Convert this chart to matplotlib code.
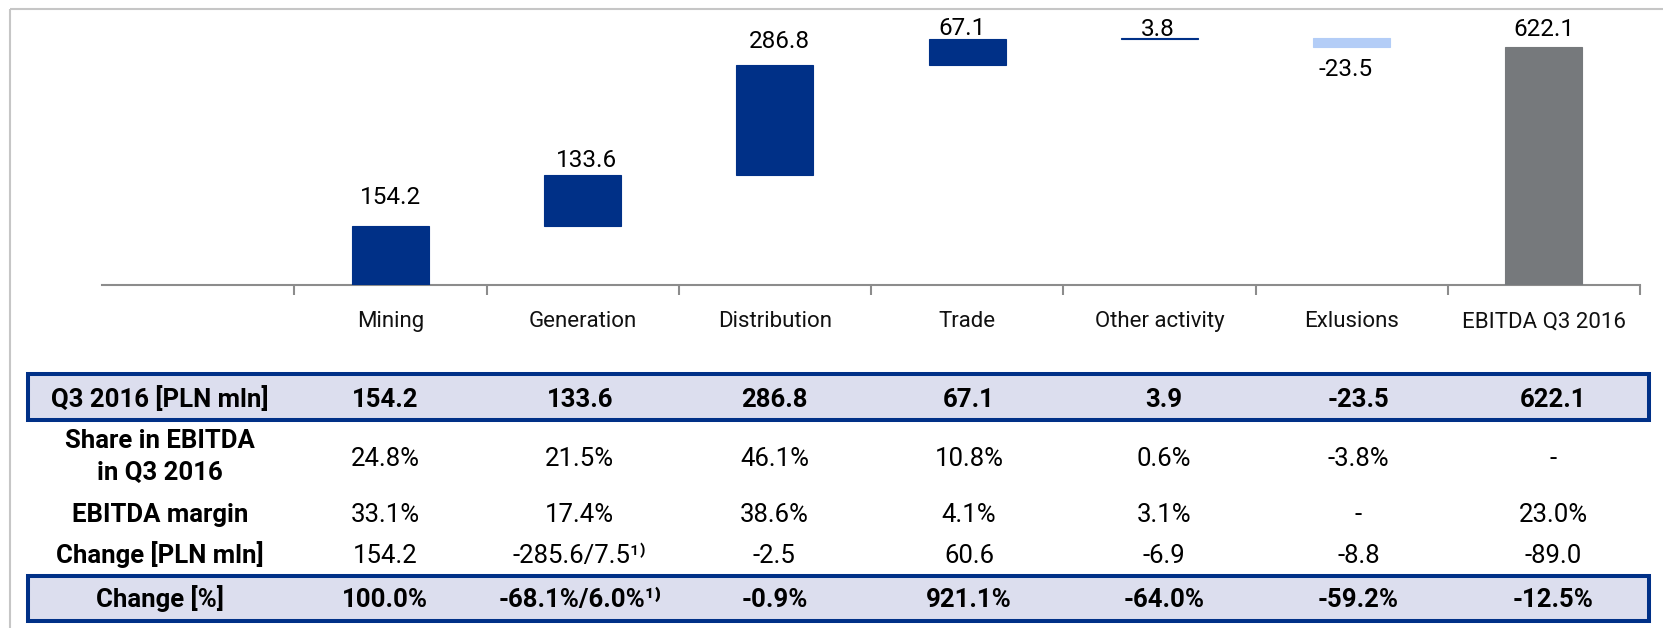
import matplotlib.pyplot as plt
from matplotlib.patches import Rectangle
import numpy as np

plt.rcParams['font.family'] = ['Roboto', 'DejaVu Sans']

# chart data
categories = ["", "Mining", "Generation", "Distribution", "Trade", "Other activity", "Exlusions", "EBITDA Q3 2016"]
steps = [154.2, 133.6, 286.8, 67.1, 3.8, -23.5]
total = 622.1
bar_labels = ["154.2", "133.6", "286.8", "67.1", "3.8", "-23.5", "622.1"]

# table data
row_names = ["Q3 2016 [PLN mln]", "Share in EBITDA\nin Q3 2016", "EBITDA margin", "Change [PLN mln]", "Change [%]"]
q3_values = ["154.2", "133.6", "286.8", "67.1", "3.9", "-23.5", "622.1"]
share = ["24.8%", "21.5%", "46.1%", "10.8%", "0.6%", "-3.8%", "-"]
margin = ["33.1%", "17.4%", "38.6%", "4.1%", "3.1%", "-", "23.0%"]
change_pln = ["154.2", "-285.6/7.5\u00b9\u207e", "-2.5", "60.6", "-6.9", "-8.8", "-89.0"]
change_pct = ["100.0%", "-68.1%/6.0%\u00b9\u207e", "-0.9%", "921.1%", "-64.0%", "-59.2%", "-12.5%"]

dark_blue = "#003087"
light_blue = "#b3cdf7"
grey_bar = "#76797c"
axis_grey = "#8c8c8c"
box_fill = "#dcdeee"

W, H = 1663, 628
fig = plt.figure(figsize=(W / 100, H / 100), dpi=100)

# overlay in pixel coordinates for the frame and the table
tab = fig.add_axes([0, 0, 1, 1])
tab.set_xlim(0, W)
tab.set_ylim(H, 0)
tab.axis("off")
tab.add_patch(Rectangle((10, 9), 1800, 800, fill=False, ec="#c6c6c6", lw=1.5))

# waterfall chart
ax = fig.add_axes([102 / W, 1 - 285 / H, 1538 / W, 276 / H])
ax.patch.set_alpha(0)
px = 0.3826  # pixels per PLN mln
ax.set_xlim(-0.5, 7.5)
ax.set_ylim(0, 276 / px)

cum = np.cumsum(steps)
bottoms = list(np.concatenate([[0], cum[:-1]])) + [0]
heights = list(steps) + [total]
xs = np.arange(1, 8)
colors = [dark_blue] * 5 + [light_blue, grey_bar]
ax.bar(xs, heights, bottom=bottoms, width=0.4, color=colors,
       edgecolor=colors, linewidth=0.8, zorder=3)

# manual label nudges (px) as in the original slide
dx = [0, 4, 4, -5, -2, -6, 0]
gap = [22, 8, 17, 4, 2, 11, 11]
for i in range(7):
    b, h = bottoms[i], heights[i]
    if h >= 0:
        ax.annotate(bar_labels[i], (xs[i], b + h), xytext=(dx[i] * 0.72, gap[i] * 0.72),
                    textcoords="offset points", ha="center", va="baseline", fontsize=17.5)
    else:
        ax.annotate(bar_labels[i], (xs[i], b + h), xytext=(dx[i] * 0.72, -gap[i] * 0.72),
                    textcoords="offset points", ha="center", va="top", fontsize=17.5)

for s in ["top", "right", "left"]:
    ax.spines[s].set_visible(False)
ax.spines["bottom"].set_color(axis_grey)
ax.spines["bottom"].set_linewidth(1.5)
ax.set_yticks([])
ax.set_xticks(range(8))
ax.set_xticklabels(categories, fontsize=16, color="#111111")
ax.tick_params(axis="x", which="major", length=0, pad=19)
ax.set_xticks(np.arange(0.5, 8, 1), minor=True)
ax.tick_params(axis="x", which="minor", length=7, width=1.5, color=axis_grey, direction="out")

# table
for top, bot in [(374, 420), (576, 621)]:
    tab.add_patch(Rectangle((28, top), 1621, bot - top, fc=box_fill, ec=dark_blue, lw=2.9))

label_x = 160
col_x = [385 + 194.7 * i for i in range(7)]
fs = 18.5
rows = [q3_values, share, margin, change_pln, change_pct]
baselines = [407, 466, 522, 563, 607]
bold_rows = [0, 4]

for r, vals in enumerate(rows):
    weight = "bold" if r in bold_rows else "normal"
    for x, v in zip(col_x, vals):
        tab.text(x, baselines[r], v, ha="center", va="baseline", fontsize=fs, fontweight=weight)

name_lines = [row_names[0].split("\n"), row_names[1].split("\n"), row_names[2].split("\n"),
              row_names[3].split("\n"), row_names[4].split("\n")]
name_base = [[407], [448, 480], [522], [563], [607]]
for lines, bases in zip(name_lines, name_base):
    for line, y in zip(lines, bases):
        tab.text(label_x, y, line, ha="center", va="baseline", fontsize=fs, fontweight="bold")

plt.savefig("out.png", dpi=100)
plt.close()
